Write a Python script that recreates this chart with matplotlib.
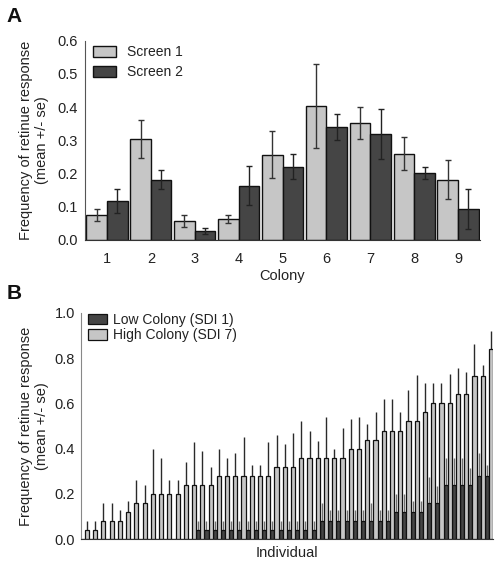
import matplotlib
matplotlib.use("Agg")
import matplotlib.pyplot as plt
import numpy as np

plt.rcParams['font.family'] = ['Liberation Sans', 'DejaVu Sans']
plt.rcParams['font.size'] = 10

# Panel A: per-colony response frequency in two screens
colonies = ['1', '2', '3', '4', '5', '6', '7', '8', '9']
screen1 = [0.074, 0.303, 0.057, 0.063, 0.257, 0.404, 0.352, 0.260, 0.182]
screen1_se = [0.018, 0.057, 0.018, 0.013, 0.070, 0.127, 0.047, 0.050, 0.060]
screen2 = [0.118, 0.182, 0.026, 0.164, 0.221, 0.341, 0.318, 0.201, 0.093]
screen2_se = [0.036, 0.028, 0.009, 0.060, 0.038, 0.039, 0.075, 0.018, 0.060]

# Panel B: individuals sorted by response frequency
high_mean = [0.04, 0.04, 0.08, 0.08, 0.08, 0.12, 0.16, 0.16, 0.20, 0.20,
             0.20, 0.20, 0.24, 0.24, 0.24, 0.24, 0.28, 0.28, 0.28, 0.28,
             0.28, 0.28, 0.28, 0.32, 0.32, 0.32, 0.36, 0.36, 0.36, 0.36,
             0.36, 0.36, 0.40, 0.40, 0.44, 0.44, 0.48, 0.48, 0.48, 0.52,
             0.52, 0.56, 0.60, 0.60, 0.60, 0.64, 0.64, 0.72, 0.72, 0.84]
high_top = [0.08, 0.08, 0.16, 0.16, 0.13, 0.17, 0.26, 0.24, 0.40, 0.36,
            0.26, 0.26, 0.34, 0.43, 0.39, 0.32, 0.40, 0.36, 0.38, 0.45,
            0.33, 0.33, 0.43, 0.46, 0.42, 0.47, 0.52, 0.48, 0.435, 0.54,
            0.40, 0.49, 0.53, 0.54, 0.51, 0.56, 0.62, 0.62, 0.56, 0.66,
            0.725, 0.69, 0.69, 0.69, 0.73, 0.756, 0.74, 0.86, 0.77, 0.92]
low_mean = [0.0] * 14 + [0.04] * 15 + [0.08] * 9 + [0.12] * 4 + \
           [0.16] * 2 + [0.24] * 4 + [0.28] * 2
low_top = [0.0] * 14 + [0.08] * 15 + \
          [0.16, 0.13, 0.13, 0.13, 0.13, 0.13, 0.16, 0.13, 0.13] + \
          [0.20, 0.20, 0.17, 0.17] + [0.275, 0.235] + \
          [0.36, 0.36, 0.36, 0.315] + [0.38, 0.33]

light = '#c6c6c6'
dark = '#454545'
txt = '#222222'

fig = plt.figure(figsize=(4.98, 5.66), dpi=100)

# ---------- Panel A ----------
axA = fig.add_axes([0.1707, 0.576, 0.7932, 0.352])
x = np.arange(1, len(colonies) + 1)
w = 0.47
axA.bar(x - w / 2, screen1, w, yerr=screen1_se, color=light, edgecolor='#111111',
        linewidth=1.0, label='Screen 1',
        error_kw=dict(ecolor='#333333', elinewidth=1.0, capsize=2.5, capthick=1.0))
axA.bar(x + w / 2, screen2, w, yerr=screen2_se, color=dark, edgecolor='#111111',
        linewidth=1.0, label='Screen 2',
        error_kw=dict(ecolor='#222222', elinewidth=1.0, capsize=2.5, capthick=1.0))
axA.set_xlim(0.5, 9.5)
axA.set_ylim(0, 0.6)
axA.set_xticks(x)
axA.set_xticklabels(colonies)
axA.set_yticks(np.arange(0, 0.61, 0.1))
axA.set_yticklabels([f"{v:.1f}" for v in np.arange(0, 0.61, 0.1)])
axA.tick_params(axis='x', length=0, pad=9, labelsize=10.5, colors=txt)
axA.tick_params(axis='y', length=0, pad=5, labelsize=10.5, colors=txt)
for s in ['top', 'right']:
    axA.spines[s].set_visible(False)
axA.spines['left'].set_color('#555555')
axA.spines['bottom'].set_color('#333333')
axA.set_xlabel('Colony', fontsize=10.5, color=txt, labelpad=2)
axA.set_ylabel('Frequency of retinue response\n(mean +/- se)', fontsize=10.5,
               color=txt, labelpad=6)
axA.legend(loc='upper left', frameon=False, fontsize=10, handlelength=1.6,
           handleheight=0.9, borderaxespad=0.2, labelspacing=0.45,
           bbox_to_anchor=(0.0, 1.02), labelcolor=txt)

# ---------- Panel B ----------
axB = fig.add_axes([0.162, 0.0472, 0.828, 0.4003])
idx = np.arange(len(high_mean))
bw = 0.5
low_err = np.array(low_top) - np.array(low_mean)
high_err = np.array(high_top) - np.array(high_mean)
axB.bar(idx - bw / 2, low_mean, bw, color=dark, edgecolor='#111111',
        linewidth=0.9, label='Low Colony (SDI 1)', zorder=2)
axB.bar(idx + bw / 2, high_mean, bw, color=light, edgecolor='#111111',
        linewidth=0.9, label='High Colony (SDI 7)', zorder=2)
has_low = np.array(low_mean) > 0
axB.errorbar((idx - bw / 2)[has_low], np.array(low_mean)[has_low],
             yerr=[np.zeros(has_low.sum()), low_err[has_low]],
             fmt='none', ecolor='#707070', elinewidth=1.0, capsize=0, zorder=1)
axB.errorbar(idx + bw / 2, high_mean, yerr=[np.zeros(len(idx)), high_err],
             fmt='none', ecolor='#2a2a2a', elinewidth=1.0, capsize=0, zorder=1)
axB.set_xlim(-0.5, len(idx) - 0.5)
axB.set_ylim(0, 1.0)
axB.set_xticks([])
axB.set_yticks(np.arange(0, 1.01, 0.2))
axB.set_yticklabels([f"{v:.1f}" for v in np.arange(0, 1.01, 0.2)])
axB.tick_params(axis='y', length=0, pad=4, labelsize=10.5, colors=txt)
for s in ['top', 'right']:
    axB.spines[s].set_visible(False)
axB.spines['left'].set_color('#888888')
axB.spines['bottom'].set_color('#333333')
axB.set_xlabel('Individual', fontsize=10.5, color=txt, labelpad=5)
axB.set_ylabel('Frequency of retinue response\n(mean +/- se)', fontsize=10.5,
               color=txt, labelpad=4)
axB.legend(loc='upper left', frameon=False, fontsize=10, handlelength=1.4,
           handleheight=0.8, borderaxespad=0.1, labelspacing=0.1,
           handletextpad=0.4, bbox_to_anchor=(0.0, 1.03), labelcolor=txt)

fig.text(0.014, 0.962, 'A', fontsize=15, fontweight='bold', color='#111111')
fig.text(0.014, 0.472, 'B', fontsize=15, fontweight='bold', color='#111111')

fig.savefig('out.png', dpi=100)
